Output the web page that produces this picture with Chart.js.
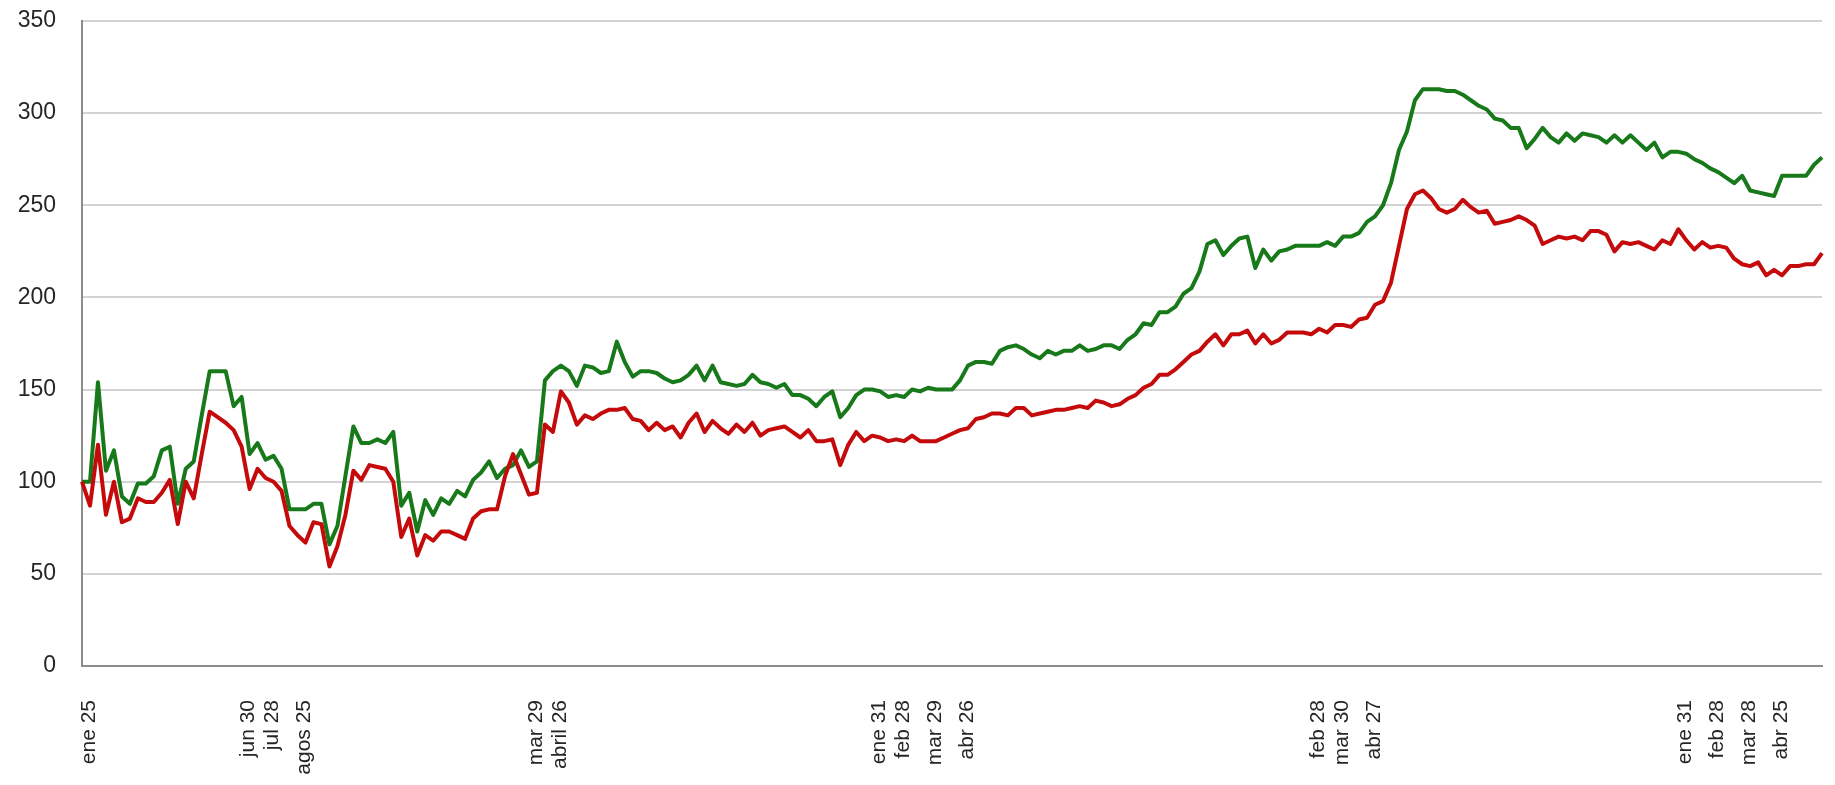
<!DOCTYPE html>
<html>
<head>
<meta charset="utf-8">
<script src="https://cdn.jsdelivr.net/npm/chart.js@4.4.1/dist/chart.umd.min.js"></script>
<style>
  html, body { margin: 0; padding: 0; background: #ffffff; }
  #wrap { width: 1835px; height: 785px; position: relative; }
</style>
</head>
<body>
<div id="wrap"><canvas id="c"></canvas></div>
<script>
// Tick labels (x axis) and the category index each one sits on
const tickLabels = ["ene 25","jun 30","jul 28","agos 25","mar 29","abril 26","ene 31","feb 28","mar 29","abr 26","feb 28","mar 30","abr 27","ene 31","feb 28","mar 28","abr 25"];
const tickIndex  = [0, 20, 23, 27, 56, 59, 99, 102, 106, 110, 154, 157, 161, 200, 204, 208, 212];

// Series values (one value per weekly category)
const greenSeries = [
100,100,154,106,117,92,88,99,99,103,117,119,88,107,111,136,160,160,160,141,
146,115,121,112,114,107,85,85,85,88,88,66,76,103,130,121,121,123,121,127,
87,94,73,90,82,91,88,95,92,101,105,111,102,107,109,117,108,111,155,160,
163,160,152,163,162,159,160,176,165,157,160,160,159,156,154,155,158,163,155,163,
154,153,152,153,158,154,153,151,153,147,147,145,141,146,149,135,140,147,150,150,
149,146,147,146,150,149,151,150,150,150,155,163,165,165,164,171,173,174,172,169,
167,171,169,171,171,174,171,172,174,174,172,177,180,186,185,192,192,195,202,205,
214,229,231,223,228,232,233,216,226,220,225,226,228,228,228,228,230,228,233,233,
235,241,244,250,262,280,290,307,313,313,313,312,312,310,307,304,302,297,296,292,
292,281,286,292,287,284,289,285,289,288,287,284,288,284,288,284,280,284,276,279,
279,278,275,273,270,268,265,262,266,258,257,256,255,266,266,266,266,272,276
];
const redSeries = [
100,87,120,82,100,78,80,91,89,89,94,101,77,100,91,115,138,135,132,128,
119,96,107,102,100,95,76,71,67,78,77,54,65,82,106,101,109,108,107,100,
70,80,60,71,68,73,73,71,69,80,84,85,85,103,115,104,93,94,131,127,
149,143,131,136,134,137,139,139,140,134,133,128,132,128,130,124,132,137,127,133,
129,126,131,127,132,125,128,129,130,127,124,128,122,122,123,109,120,127,122,125,
124,122,123,122,125,122,122,122,124,126,128,129,134,135,137,137,136,140,140,136,
137,138,139,139,140,141,140,144,143,141,142,145,147,151,153,158,158,161,165,169,
171,176,180,174,180,180,182,175,180,175,177,181,181,181,180,183,181,185,185,184,
188,189,196,198,208,228,248,256,258,254,248,246,248,253,249,246,247,240,241,242,
244,242,239,229,231,233,232,233,231,236,236,234,225,230,229,230,228,226,231,229,
237,231,226,230,227,228,227,221,218,217,219,212,215,212,217,217,218,218,224
];

const yTicks = [0, 50, 100, 150, 200, 250, 300, 350];

const categories = greenSeries.map(() => "");
tickLabels.forEach((t, i) => { categories[tickIndex[i]] = t; });

const FONT = "'Liberation Sans', Arial, sans-serif";

new Chart(document.getElementById('c'), {
  type: 'line',
  data: {
    labels: categories,
    datasets: [
      { label: 'rojo', data: redSeries, borderColor: '#c40a0a', borderWidth: 4,
        pointRadius: 0, tension: 0, fill: false, borderJoinStyle: 'round' },
      { label: 'verde', data: greenSeries, borderColor: '#17791a', borderWidth: 4,
        pointRadius: 0, tension: 0, fill: false, borderJoinStyle: 'round' }
    ]
  },
  options: {
    responsive: true,
    maintainAspectRatio: false,
    devicePixelRatio: 1,
    animation: false,
    layout: { padding: { top: 0, right: 0, left: 0, bottom: 0 } },
    plugins: { legend: { display: false }, tooltip: { enabled: false } },
    scales: {
      x: {
        type: 'category',
        offset: false,
        grid: { display: false, drawTicks: false },
        border: { display: true, color: '#8c8c8c', width: 2 },
        ticks: {
          autoSkip: false, minRotation: 90, maxRotation: 90,
          padding: 34, labelOffset: 7, color: '#262626',
          font: { family: FONT, size: 21 }
        },
        afterFit: (s) => { s.height = 119; s.paddingLeft = 0; s.paddingRight = 13; }
      },
      y: {
        min: 0, max: 350,
        afterBuildTicks: (s) => { s.ticks = yTicks.map(v => ({ value: v })); },
        grid: { color: '#d3d3d3', lineWidth: 2, drawTicks: false },
        border: { display: true, color: '#8c8c8c', width: 2 },
        ticks: { padding: 26, color: '#262626', font: { family: FONT, size: 23 } },
        afterFit: (s) => { s.width = 82; s.paddingTop = 21; s.paddingBottom = 0; }
      }
    }
  }
});
</script>
</body>
</html>
